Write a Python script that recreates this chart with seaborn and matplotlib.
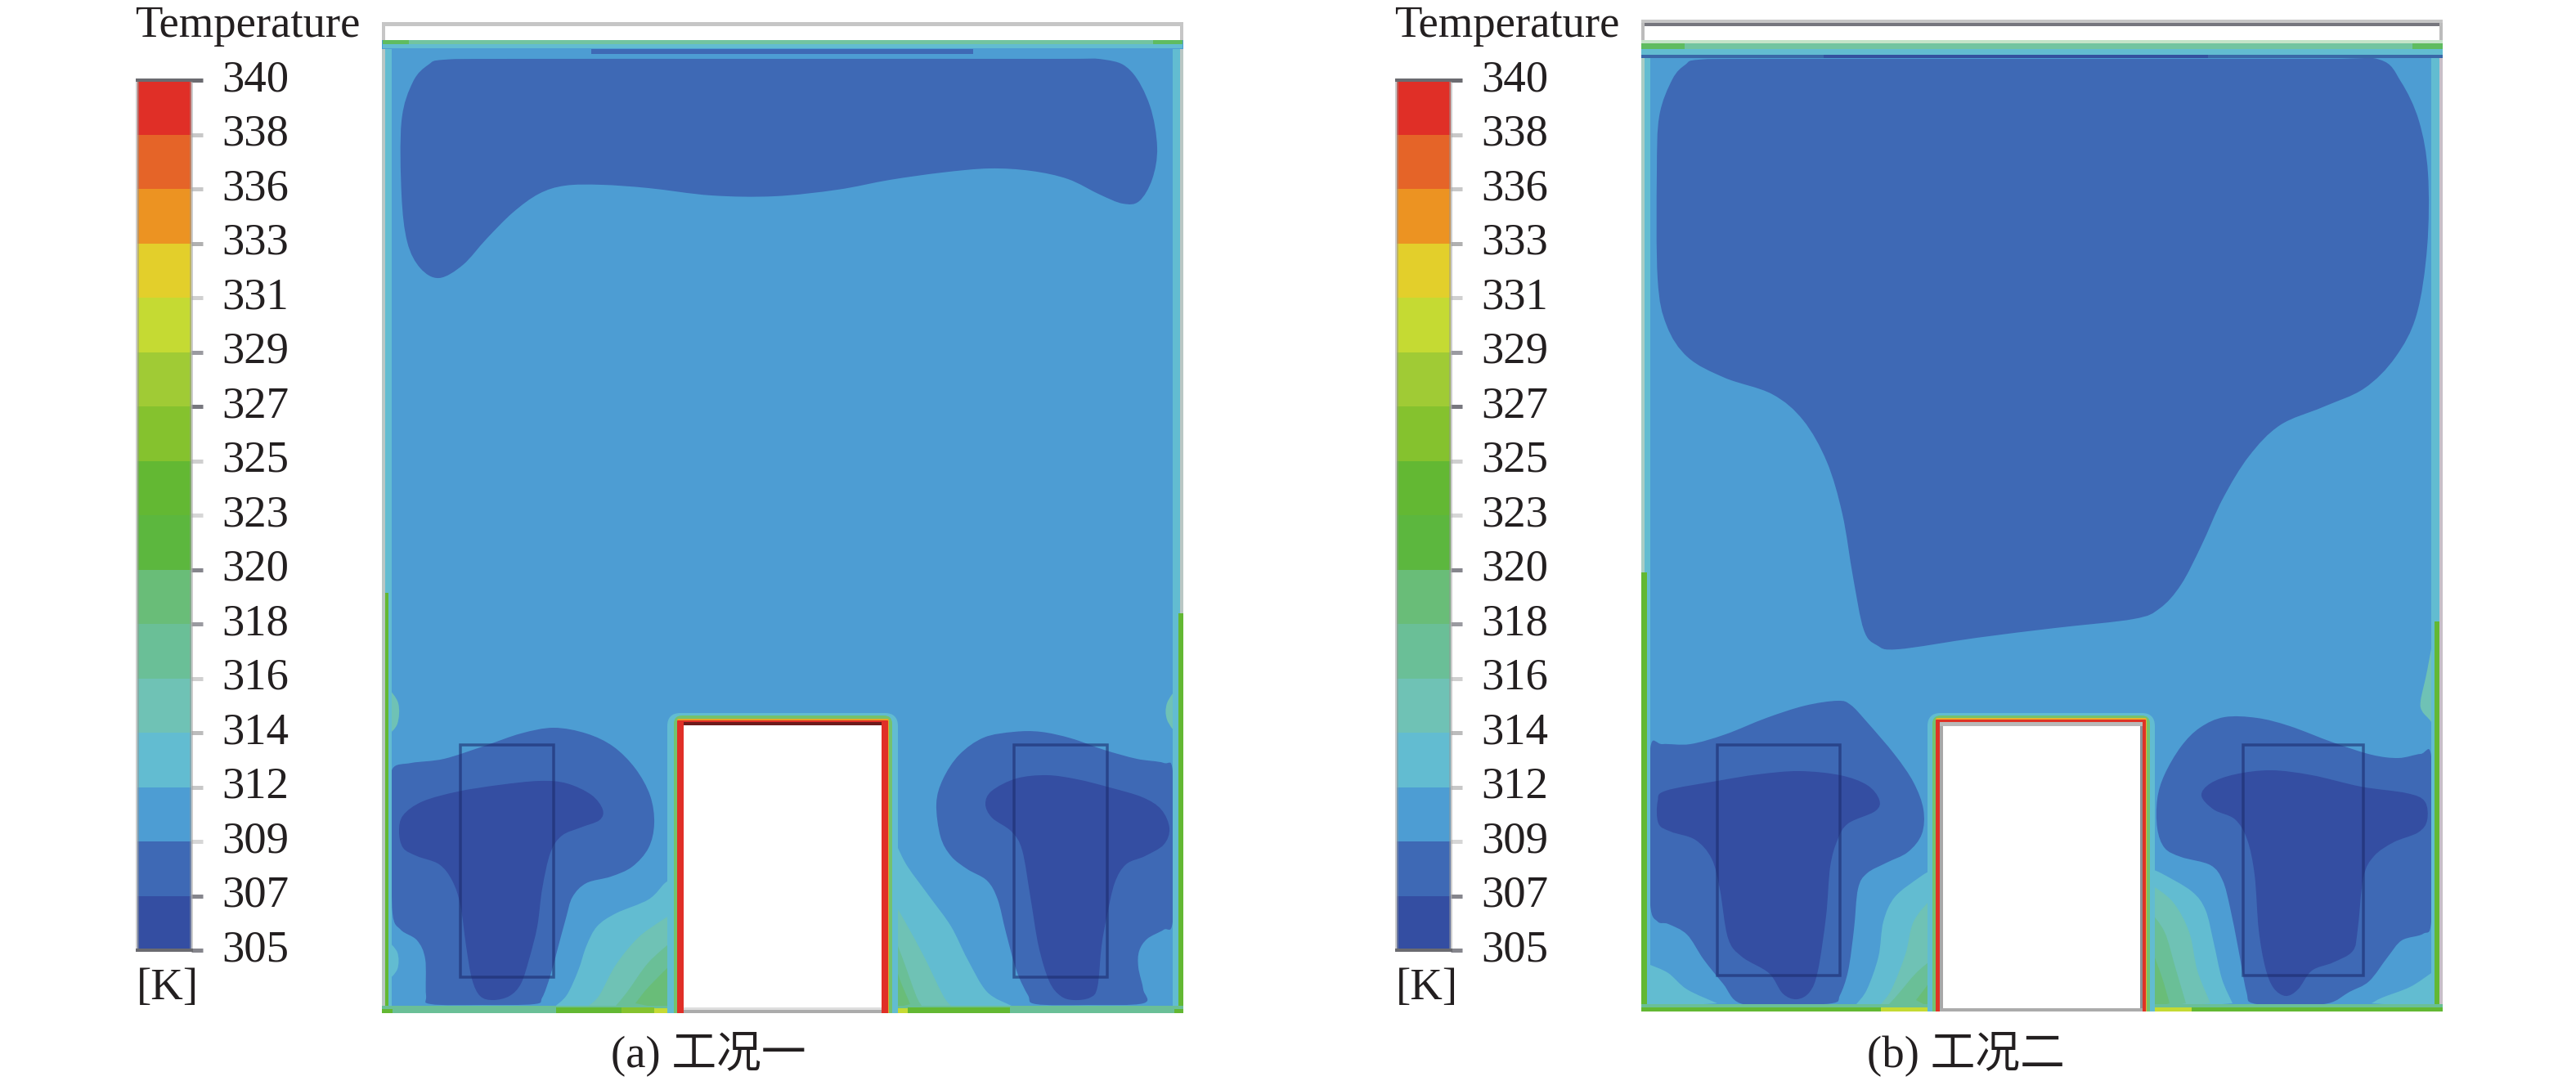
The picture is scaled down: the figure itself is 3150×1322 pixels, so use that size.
import numpy as np
import seaborn as sns
import matplotlib
matplotlib.use('Agg')
import matplotlib.pyplot as plt
from matplotlib.colors import ListedColormap
from matplotlib.patches import PathPatch, Rectangle, FancyBboxPatch
from matplotlib.path import Path
from matplotlib.transforms import ScaledTranslation

W, H, DPI = 3150, 1322, 100

# colour bar, top to bottom
tick_labels = [340, 338, 336, 333, 331, 329, 327, 325, 323, 320, 318, 316, 314, 312, 309, 307, 305]
level_colors = ['#e02f27', '#e56428', '#ec9322', '#e3cf2b', '#c5da33', '#a0cb35', '#85c22e', '#63b833',
                '#5cb73e', '#69bd78', '#6abf97', '#6fc2b5', '#62bcd1', '#4d9dd3', '#3e69b5', '#344ea2']
tick_colors = ['#6b6b70', '#c8c8c8', '#c8c8c8', '#b0b0b0', '#d0d0d0', '#9a9aa0', '#77777e', '#cfcfcf', '#d6d6d6',
               '#85858c', '#9a9aa0', '#d0d0d0', '#bcbcbc', '#c8c8c8', '#d6d6d6', '#85858c', '#85858c']

C305, C307, C309, C312 = '#344ea2', '#3e69b5', '#4d9dd3', '#62bcd1'
C314, C316, C318, C323 = '#6fc2b5', '#6abf97', '#69bd78', '#63b833'

a_top = [(543, 73), (620, 72), (950, 72), (1280, 72), (1351, 73), (1383, 87), (1406, 129), (1415, 180), (1409, 219),
         (1393, 246), (1373, 249), (1345, 238), (1306, 219), (1261, 209), (1210, 206), (1152, 211), (1088, 220),
         (1024, 232), (947, 240), (870, 239), (793, 230), (736, 226), (691, 227), (659, 237), (627, 260), (595, 292),
         (566, 324), (537, 340), (514, 328), (498, 296), (491, 238), (491, 148), (505, 100), (524, 79)]
a_left_309 = [(480, 940), (503, 933), (543, 928), (593, 912), (637, 897), (677, 890), (717, 897), (750, 913),
              (777, 940), (795, 973), (800, 1007), (793, 1037), (773, 1060), (747, 1072), (717, 1080), (700, 1097),
              (692, 1123), (682, 1160), (673, 1193), (663, 1220), (653, 1228), (590, 1229), (527, 1228), (521, 1217),
              (520, 1173), (510, 1150), (490, 1137), (480, 1117), (479, 1040), (479, 973)]
a_left_307 = [(493, 997), (517, 980), (560, 968), (610, 960), (660, 955), (693, 958), (723, 972), (737, 990),
              (733, 1003), (710, 1012), (687, 1022), (673, 1043), (663, 1087), (657, 1133), (647, 1173), (637, 1203),
              (623, 1218), (603, 1223), (587, 1218), (577, 1197), (570, 1157), (563, 1107), (553, 1077), (537, 1057),
              (510, 1047), (493, 1037), (488, 1017)]
a_right_309 = [(1145, 983), (1153, 953), (1173, 923), (1203, 902), (1240, 895), (1273, 895), (1310, 903), (1350, 917),
               (1390, 928), (1423, 933), (1434, 943), (1435, 1035), (1434, 1127), (1423, 1137), (1403, 1148), (1393, 1163),
               (1392, 1183), (1398, 1210), (1398, 1227), (1330, 1229), (1267, 1228), (1257, 1217), (1243, 1187), (1230, 1140),
               (1220, 1100), (1207, 1077), (1183, 1063), (1163, 1047), (1150, 1023)]
a_right_307 = [(1205, 983), (1213, 967), (1243, 952), (1280, 948), (1317, 953), (1357, 963), (1397, 975), (1420, 990),
               (1430, 1013), (1423, 1033), (1400, 1047), (1377, 1057), (1363, 1080), (1353, 1123), (1347, 1157), (1342, 1207),
               (1333, 1220), (1313, 1223), (1297, 1218), (1283, 1200), (1270, 1157), (1260, 1097), (1250, 1040), (1237, 1017),
               (1213, 1000)]
# hot air wedges next to the block: open curve, closed with straight lines
a_wedges = [
    ([(825, 1073), (813, 1080), (793, 1100), (753, 1117), (730, 1133), (717, 1157), (707, 1187), (693, 1217), (677, 1232)], [(827, 1237)], C312),
    ([(823, 1117), (807, 1127), (780, 1147), (753, 1180), (733, 1217), (720, 1230)], [(827, 1237)], C314),
    ([(823, 1150), (793, 1177), (767, 1213), (753, 1230)], [(827, 1237)], C316),
    ([(823, 1177), (793, 1207), (777, 1227)], [(827, 1237)], C318),
    ([(1098, 1037), (1110, 1060), (1137, 1097), (1163, 1133), (1183, 1173), (1207, 1213), (1237, 1230)], [(1090, 1235)], C312),
    ([(1093, 1103), (1110, 1133), (1130, 1170), (1153, 1217), (1163, 1230)], [(1090, 1235)], C314),
    ([(1090, 1137), (1103, 1170), (1120, 1217), (1127, 1230)], [(1085, 1235)], C316),
    ([(1089, 1163), (1100, 1197), (1113, 1228)], [(1085, 1235)], C318),
    ([(474, 840), (487, 860), (486, 885), (474, 900)], [], C314),
    ([(1440, 840), (1427, 860), (1427, 880), (1440, 900)], [], C314),
    ([(474, 1150), (486, 1165), (486, 1185), (474, 1200)], [], C312),
]
a_boxes = [(563, 911, 677, 1195), (1240, 911, 1354, 1195)]

# contours of panel (b)
b_top = [(2077, 73), (2150, 72), (2500, 72), (2840, 72), (2910, 73), (2936, 100), (2958, 148), (2969, 212), (2968, 302),
         (2955, 385), (2929, 437), (2891, 475), (2840, 498), (2788, 520), (2750, 558), (2718, 610), (2692, 667),
         (2667, 715), (2641, 744), (2609, 757), (2513, 768), (2417, 780), (2321, 794), (2295, 789), (2279, 770),
         (2266, 706), (2253, 629), (2234, 565), (2205, 514), (2167, 482), (2109, 462), (2064, 437), (2038, 398),
         (2027, 341), (2026, 212), (2029, 142), (2045, 97), (2061, 79)]
b_left_309 = [(2018, 915), (2033, 910), (2067, 910), (2110, 898), (2160, 878), (2207, 863), (2247, 857), (2263, 862),
              (2283, 883), (2317, 923), (2340, 957), (2352, 990), (2350, 1020), (2333, 1042), (2307, 1055), (2283, 1068),
              (2272, 1087), (2267, 1137), (2260, 1187), (2250, 1217), (2240, 1227), (2180, 1229), (2128, 1227), (2107, 1203),
              (2083, 1173), (2063, 1143), (2040, 1130), (2027, 1127), (2018, 1107), (2017, 1020)]
b_left_307 = [(2027, 980), (2037, 967), (2100, 955), (2150, 947), (2200, 943), (2250, 948), (2283, 960), (2298, 978),
              (2293, 992), (2260, 1007), (2247, 1027), (2238, 1060), (2233, 1120), (2223, 1187), (2213, 1213), (2197, 1222),
              (2180, 1215), (2163, 1190), (2130, 1170), (2113, 1147), (2103, 1087), (2093, 1050), (2073, 1027), (2043, 1017),
              (2028, 1007)]
b_right_309 = [(2638, 977), (2647, 947), (2667, 913), (2690, 890), (2720, 877), (2760, 878), (2800, 888), (2853, 908),
               (2900, 923), (2933, 927), (2960, 922), (2973, 925), (2974, 1030), (2973, 1127), (2963, 1142), (2937, 1150),
               (2920, 1170), (2897, 1200), (2873, 1213), (2847, 1227), (2800, 1229), (2755, 1227), (2747, 1213), (2737, 1160),
               (2727, 1110), (2718, 1077), (2703, 1058), (2667, 1048), (2647, 1037), (2638, 1013)]
b_right_307 = [(2692, 973), (2703, 958), (2733, 947), (2777, 942), (2827, 948), (2887, 962), (2943, 970), (2965, 980),
               (2968, 1003), (2957, 1018), (2927, 1030), (2903, 1047), (2890, 1073), (2883, 1137), (2877, 1163), (2853, 1177),
               (2827, 1187), (2810, 1210), (2795, 1218), (2780, 1208), (2770, 1183), (2762, 1137), (2757, 1070), (2748, 1027),
               (2733, 1002), (2707, 990)]
b_wedges = [
    ([(2365, 1062), (2347, 1073), (2317, 1097), (2303, 1127), (2297, 1170), (2283, 1210), (2270, 1228)], [(2365, 1235)], C312),
    ([(2363, 1097), (2340, 1127), (2330, 1167), (2313, 1210), (2300, 1228)], [(2365, 1235)], C314),
    ([(2363, 1173), (2343, 1190), (2320, 1217), (2310, 1228)], [(2365, 1235)], C316),
    ([(2363, 1197), (2343, 1223)], [(2365, 1235)], C318),
    ([(2630, 1063), (2643, 1068), (2680, 1090), (2697, 1113), (2707, 1153), (2717, 1197), (2730, 1227)], [(2630, 1235)], C312),
    ([(2628, 1080), (2657, 1103), (2677, 1140), (2687, 1187), (2703, 1227)], [(2628, 1235)], C314),
    ([(2628, 1113), (2647, 1140), (2660, 1183), (2673, 1227)], [(2628, 1235)], C316),
    ([(2628, 1153), (2643, 1193), (2653, 1227)], [(2628, 1235)], C318),
    ([(2018, 1180), (2040, 1190), (2063, 1210), (2100, 1227)], [(2018, 1232)], C312),
    ([(2973, 1190), (2947, 1207), (2913, 1220), (2900, 1227)], [(2975, 1232)], C312),
    ([(2979, 760), (2968, 820), (2960, 857), (2962, 870), (2973, 883), (2979, 900)], [], C314),
]
b_boxes = [(2100, 911, 2250, 1193), (2743, 911, 2890, 1193)]

sns.set_theme(style='white')
plt.rcParams['font.family'] = ['Liberation Serif', 'Noto Sans CJK SC']
TEXT = '#231f20'
FS = 39.4

fig = plt.figure(figsize=(W / DPI, H / DPI), dpi=DPI, facecolor='white')


def px_axes(x0, y0, x1, y1):
    return fig.add_axes([x0 / W, 1 - y1 / H, (x1 - x0) / W, (y1 - y0) / H])


def lw(px):
    return px * 72 / DPI


def blob(ax, pts, color):
    p = np.array(pts, dtype=float)
    n = len(p)
    verts, codes = [p[0]], [Path.MOVETO]
    for i in range(n):
        p0, p1, p2, p3 = p[i - 1], p[i], p[(i + 1) % n], p[(i + 2) % n]
        verts += [p1 + (p2 - p0) / 6, p2 - (p3 - p1) / 6, p2]
        codes += [Path.CURVE4] * 3
    ax.add_patch(PathPatch(Path(verts, codes), fc=color, ec='none', zorder=3))


def wedge(ax, curve, ends, color):
    p = np.array(curve, dtype=float)
    verts, codes = [p[0]], [Path.MOVETO]
    for i in range(len(p) - 1):
        p0 = p[max(i - 1, 0)]
        p3 = p[min(i + 2, len(p) - 1)]
        verts += [p[i] + (p[i + 1] - p0) / 6, p[i + 1] - (p3 - p[i]) / 6, p[i + 1]]
        codes += [Path.CURVE4] * 3
    for e in ends:
        verts.append(e)
        codes.append(Path.LINETO)
    verts.append(p[0])
    codes.append(Path.CLOSEPOLY)
    ax.add_patch(PathPatch(Path(verts, codes), fc=color, ec='none', zorder=2))


def band(ax, x0, y0, x1, y1, color, z=5):
    ax.add_patch(Rectangle((x0, y0), x1 - x0, y1 - y0, fc=color, ec='none', zorder=z))


def panel(x0, x1, ybot, blobs, wedges, boxes, rims, halos, block):
    # axes end at the floor, so the layers round the block get cut off there
    ax = px_axes(x0 - 10, 10, x1 + 10, ybot)
    ax.set_xlim(x0 - 10, x1 + 10)
    ax.set_ylim(ybot, 10)
    ax.axis('off')
    band(ax, x0, 49, x1, ybot, C309, z=1)
    for curve, ends, color in wedges:
        wedge(ax, curve, ends, color)
    for pts, color in blobs:
        blob(ax, pts, color)
    for r in rims:
        band(ax, *r)
    for hx0, hx1, htop, color, r in halos:
        ax.add_patch(FancyBboxPatch((hx0 + r, htop + r), hx1 - hx0 - 2 * r, ybot - htop,
                                    boxstyle=f'round,pad={r},rounding_size={r}', fc=color, ec='none', zorder=6))
    for r in block:
        band(ax, *r, z=7)
    # the two translucent boxes
    for bx0, by0, bx1, by1 in boxes:
        ax.add_patch(Rectangle((bx0, by0), bx1 - bx0, by1 - by0, fc='none', ec='#1c2c6e', lw=lw(3.5), alpha=0.6, zorder=8))
    return ax


def colorbar(x0):
    ax = px_axes(x0 + 3, 98, x0 + 69, 1162)
    vals = np.arange(len(level_colors)).reshape(-1, 1)
    sns.heatmap(vals, ax=ax, cmap=ListedColormap(level_colors), cbar=False, xticklabels=False, yticklabels=False)
    ax.yaxis.tick_right()
    ax.set_yticks(np.arange(len(tick_labels)))
    ax.set_yticklabels(tick_labels, rotation=0, fontsize=FS, color=TEXT)
    ax.tick_params(axis='y', right=True, left=False, length=10, width=lw(5), pad=17)
    # tick lines are markers, so it's the marker edge that carries the colour
    for tick, c in zip(ax.yaxis.get_major_ticks(), tick_colors):
        tick.tick2line.set_markeredgecolor(c)
    off = ScaledTranslation(0, 6 / DPI, fig.dpi_scale_trans)
    for t in ax.get_yticklabels():
        t.set_transform(t.get_transform() + off)
    for name, sp in ax.spines.items():
        sp.set_visible(True)
        sp.set_color('#6b6b70' if name in ('top', 'bottom') else '#9a9a9a')
        sp.set_alpha(1 if name in ('top', 'bottom') else 0.5)
        sp.set_linewidth(lw(4))
    fig.text((x0 + 0) / W, 1 - 45 / H, 'Temperature', fontsize=FS, color=TEXT, ha='left', va='baseline')
    fig.text((x0 + 2) / W, 1 - 1222 / H, '[K]', fontsize=FS, color=TEXT, ha='left', va='baseline')


colorbar(165)
colorbar(1705)

panel(467, 1447, 1239,
      [(a_top, C307), (a_left_309, C307), (a_left_307, C305), (a_right_309, C307), (a_right_307, C305)],
      a_wedges, a_boxes,
      [(467, 27, 1447, 32, '#c6c6c6'), (467, 27, 471, 49, '#c6c6c6'), (1443, 27, 1447, 49, '#c6c6c6'),
       (468, 49, 1446, 54, '#72c4a0'), (468, 49, 500, 56, '#5fbc60'), (1410, 49, 1446, 56, '#5fbc60'),
       (468, 54, 1446, 59, C312), (468, 59, 1446, 68, C309), (723, 60, 1190, 66, C307),
       (467, 60, 471, 1239, '#b9c7c4'), (471, 60, 479, 1239, C312), (471, 725, 475, 1239, C323),
       (1443, 60, 1447, 1239, '#b9c7c4'), (1434, 60, 1443, 1239, C312), (1441, 750, 1447, 1239, C323),
       (467, 1230, 1447, 1239, C316), (680, 1232, 760, 1239, C323), (760, 1232, 800, 1239, '#85c22e'), (800, 1233, 827, 1239, '#c5da33'),
       (1090, 1233, 1110, 1239, '#c5da33'), (1110, 1232, 1235, 1239, C323),
       (467, 1234, 480, 1239, C323), (1436, 1234, 1447, 1239, C323)],
      [(816, 1098, 872, C312, 16), (824, 1091, 875, '#74c26e', 10), (828, 1087, 879, '#e8a326', 2), (828, 1086, 881, '#e02f27', 1)],
      [(836, 883, 1078, 887, '#6e1a1c'), (836, 887, 1078, 1239, 'white'), (836, 1232, 1078, 1235, '#dedede'), (836, 1235, 1078, 1239, '#ababab')])

panel(2007, 2983, 1237,
      [(b_top, C307), (b_left_309, C307), (b_left_307, C305), (b_right_309, C307), (b_right_307, C305)],
      b_wedges, b_boxes,
      [(2007, 24, 2987, 28, '#c6c6c6'), (2007, 28, 2987, 32, '#76767e'), (2007, 28, 2011, 49, '#bcbcbc'), (2983, 28, 2987, 49, '#bcbcbc'),
       (2007, 49, 2987, 53, '#c4e3c8'), (2007, 53, 2987, 60, '#72c4a0'), (2007, 53, 2060, 60, '#5fbc60'), (2950, 53, 2987, 60, '#5fbc60'),
       (2007, 60, 2987, 67, C312), (2007, 67, 2987, 71, '#3a68a8'), (2230, 67, 2700, 71, '#34509f'),
       (2007, 71, 2011, 1237, '#a9cdc4'), (2011, 71, 2018, 1237, C312), (2007, 700, 2014, 1237, C323),
       (2983, 71, 2987, 1237, '#c8bfc8'), (2973, 71, 2983, 1237, C312), (2977, 760, 2983, 1237, C323),
       (2007, 1228, 2987, 1232, C316), (2007, 1232, 2987, 1237, C323),
       (2300, 1232, 2365, 1237, '#c5da33'), (2628, 1232, 2680, 1237, '#c5da33')],
      [(2357, 2635, 872, C312, 16), (2363, 2629, 875, '#74c26e', 10), (2367, 2625, 878, '#e8b02b', 2), (2367, 2624, 880, '#de3326', 1)],
      [(2372, 883, 2620, 888, '#b9b9b9'), (2372, 888, 2376, 1237, '#a8a8a8'), (2617, 888, 2620, 1237, '#8f8f96'),
       (2376, 888, 2617, 1237, 'white'), (2372, 1233, 2620, 1237, '#ababab')])

fig.text(747 / W, 1 - 1304 / H, '(a) 工况一', fontsize=FS, color=TEXT, ha='left', va='baseline')
fig.text(2283 / W, 1 - 1304 / H, '(b) 工况二', fontsize=FS, color=TEXT, ha='left', va='baseline')

fig.savefig('out.png', dpi=DPI)
